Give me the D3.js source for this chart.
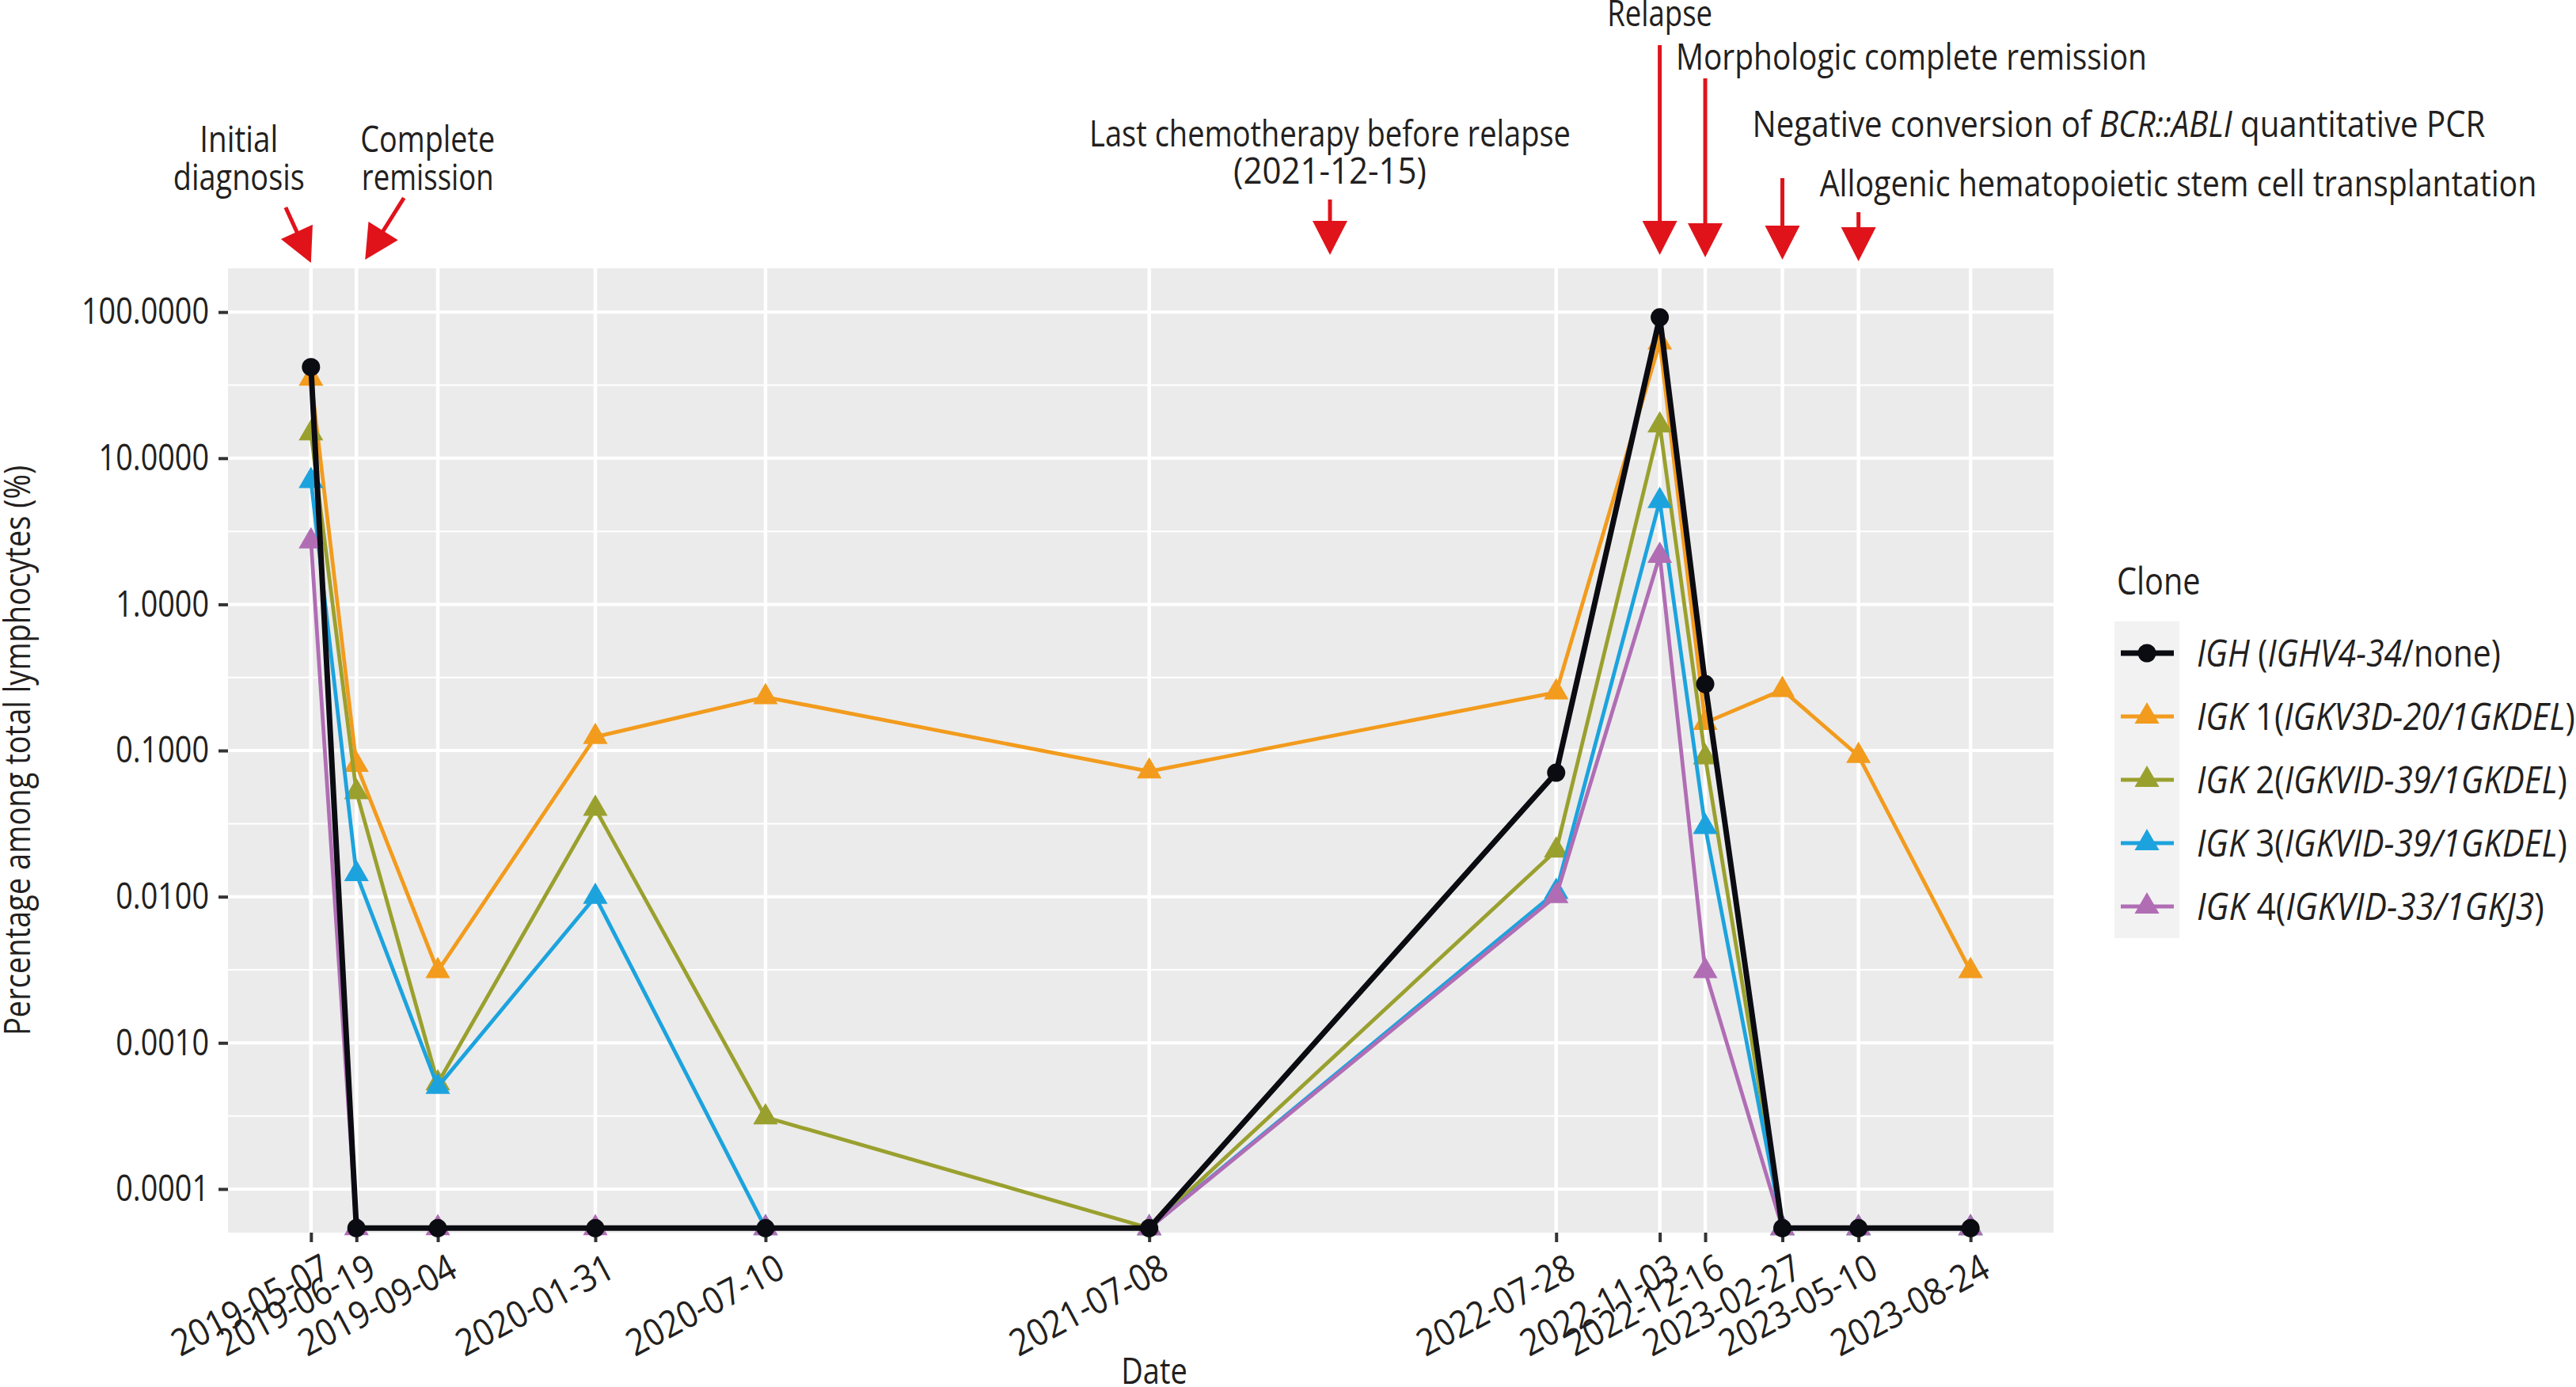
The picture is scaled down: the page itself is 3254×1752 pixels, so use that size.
<!DOCTYPE html>
<html>
<head>
<meta charset="utf-8">
<script src="https://cdn.jsdelivr.net/npm/d3@7"></script>
<style>
body { margin: 0; background: #fff; }
text { font-family: "Open Sans", "DejaVu Sans", sans-serif; fill: #231f20; }
</style>
</head>
<body>
<svg id="chart" width="3254" height="1752"></svg>
<script>

// sampling dates (x categories, also the x tick labels)
var dates = ["2019-05-07", "2019-06-19", "2019-09-04", "2020-01-31", "2020-07-10", "2021-07-08",
             "2022-07-28", "2022-11-03", "2022-12-16", "2023-02-27", "2023-05-10", "2023-08-24"];

// % among total lymphocytes, 0 = not detected (drawn on the floor of the panel)
var igh  = [42,   0,      0,       0,      0,       0,     0.0705, 92,   0.285, 0,    0,     0];
var igk1 = [35,   0.080,  0.0031,  0.124,  0.232,   0.072, 0.25,   62,   0.155, 0.26, 0.092, 0.0031];
var igk2 = [14.8, 0.052,  0.00053, 0.040,  0.00031, 0,     0.0207, 16.8, 0.090, 0,    0,     0];
var igk3 = [7.0,  0.0143, 0.0005,  0.0100, 0,       0,     0.0108, 5.1,  0.030, 0,    0,     0];
var igk4 = [2.7,  0,      0,       0,      0,       0,     0.0101, 2.15, 0.0031, 0,   0,     0];

var yTicks = [0.0001, 0.001, 0.01, 0.1, 1, 10, 100];
var yMinor = [0.000316, 0.00316, 0.0316, 0.316, 3.16, 31.6];

// legend labels: [text, italic?]
var cloneNames = [
  [["IGH", 1], [" (", 0], ["IGHV4-34", 1], ["/none)", 0]],
  [["IGK", 1], [" 1(", 0], ["IGKV3D-20/1GKDEL", 1], [")", 0]],
  [["IGK", 1], [" 2(", 0], ["IGKVID-39/1GKDEL", 1], [")", 0]],
  [["IGK", 1], [" 3(", 0], ["IGKVID-39/1GKDEL", 1], [")", 0]],
  [["IGK", 1], [" 4(", 0], ["IGKVID-33/1GKJ3", 1], [")", 0]]
];
var cloneColors = ["#0b0b12", "#f29b1d", "#9aa02e", "#1ca3de", "#b06db4"];
var cloneShapes = ["circle", "triangle", "triangle", "triangle", "triangle"];
var cloneValues = [igh, igk1, igk2, igk3, igk4];

// clinical events marked with red arrows
var eventDates = ["2019-05-07", "2019-06-19", "2021-12-26", "2022-11-03", "2022-12-16", "2023-02-27", "2023-05-10"];

var W = 3254, H = 1752;
var panel = {left: 288, right: 2594, top: 339, bottom: 1557};
var floorValue = 0.000054;

var parse = d3.timeParse("%Y-%m-%d");
var svg = d3.select("#chart");

// the figure uses a condensed font, so squeeze ours to the same widths
function measure(str, size) {
    var t = svg.append("text").attr("font-size", size).text(str);
    var w = t.node().getComputedTextLength();
    t.remove();
    return w;
}
var kText = 608 / measure("Last chemotherapy before relapse", 46);
var kNum = 161 / measure("100.0000", 46);
var kDate = 218 / measure("2022-07-28", 47);

function squeeze(sel, k) {
    sel.each(function () {
        var w = this.getComputedTextLength();
        d3.select(this).attr("textLength", w * k).attr("lengthAdjust", "spacingAndGlyphs");
    });
}

// text made of styled pieces, scaled horizontally to a given width
function fitText(parent, x, y, anchor, parts, width, size) {
    var g = parent.append("g");
    var t = g.append("text").attr("x", 0).attr("y", 0)
        .attr("text-anchor", anchor).attr("font-size", size || 46);
    parts.forEach(function (p) {
        t.append("tspan").attr("font-style", p[1] ? "italic" : "normal").text(p[0]);
    });
    var k = width / t.node().getComputedTextLength();
    g.attr("transform", "translate(" + x + "," + y + ") scale(" + k + ",1)");
}

// x scale with ggplot style 5% expansion
var d0 = parse(dates[0]), d1 = parse(dates[dates.length - 1]);
var pad = (d1 - d0) * 0.05;
var xScale = d3.scaleTime()
    .domain([new Date(+d0 - pad), new Date(+d1 + pad)])
    .range([panel.left, panel.right]);

var yScale = d3.scaleLog()
    .domain([5.03e-5, 199])
    .range([panel.bottom, panel.top]);

function yv(v) { return yScale(v > 0 ? v : floorValue); }

// panel + grid
svg.append("rect")
    .attr("x", panel.left).attr("y", panel.top)
    .attr("width", panel.right - panel.left).attr("height", panel.bottom - panel.top)
    .attr("fill", "#ebebeb");

svg.selectAll(".minor").data(yMinor).enter().append("line")
    .attr("x1", panel.left).attr("x2", panel.right)
    .attr("y1", function (d) { return yScale(d); }).attr("y2", function (d) { return yScale(d); })
    .attr("stroke", "#fff").attr("stroke-width", 2);

svg.selectAll(".hmajor").data(yTicks).enter().append("line")
    .attr("x1", panel.left).attr("x2", panel.right)
    .attr("y1", function (d) { return yScale(d); }).attr("y2", function (d) { return yScale(d); })
    .attr("stroke", "#fff").attr("stroke-width", 4);

svg.selectAll(".vmajor").data(dates).enter().append("line")
    .attr("y1", panel.top).attr("y2", panel.bottom)
    .attr("x1", function (d) { return xScale(parse(d)); }).attr("x2", function (d) { return xScale(parse(d)); })
    .attr("stroke", "#fff").attr("stroke-width", 4.5);

// axes
var yAxis = svg.append("g")
    .attr("transform", "translate(" + panel.left + ",0)")
    .call(d3.axisLeft(yScale).tickValues(yTicks).tickFormat(d3.format(".4f")).tickSize(12).tickPadding(12));
var xAxis = svg.append("g")
    .attr("transform", "translate(0," + panel.bottom + ")")
    .call(d3.axisBottom(xScale).tickValues(dates.map(parse)).tickFormat(d3.timeFormat("%Y-%m-%d")).tickSize(12));

svg.selectAll(".domain").remove();
svg.selectAll(".tick line").attr("stroke", "#333").attr("stroke-width", 4);
svg.selectAll(".tick text").attr("font-family", null);
yAxis.selectAll("text").attr("font-size", 46).attr("fill", "#231f20");
squeeze(yAxis.selectAll("text"), kNum);
xAxis.selectAll("text")
    .attr("font-size", 47).attr("fill", "#231f20")
    .attr("text-anchor", "end")
    .attr("x", 0).attr("y", 0).attr("dy", "0.72em")
    .attr("transform", "translate(11,25) rotate(-28)");
squeeze(xAxis.selectAll("text"), kDate);

// axis titles
svg.append("text")
    .attr("x", 1458).attr("y", 1748)
    .attr("text-anchor", "middle").attr("font-size", 46)
    .text("Date")
    .call(squeeze, kText);
svg.append("text")
    .attr("transform", "translate(38," + ((panel.top + panel.bottom) / 2) + ") rotate(-90)")
    .attr("text-anchor", "middle").attr("font-size", 46)
    .text("Percentage among total lymphocytes (%)")
    .call(squeeze, kText);

// series: line then points, IGH last so it sits on top
var line = d3.line()
    .x(function (d) { return xScale(parse(d.date)); })
    .y(function (d) { return yv(d.value); });

var triangle = d3.symbol().type(d3.symbolTriangle).size(420);
var drawOrder = [1, 2, 3, 4, 0];
drawOrder.forEach(function (i) {
    var pts = dates.map(function (d, j) { return {date: d, value: cloneValues[i][j]}; });
    svg.append("path")
        .datum(pts)
        .attr("d", line)
        .attr("fill", "none")
        .attr("stroke", cloneColors[i])
        .attr("stroke-width", i === 0 ? 7 : 4.8)
        .attr("stroke-linejoin", "round");
    var g = svg.append("g");
    if (cloneShapes[i] === "circle") {
        g.selectAll("circle").data(pts).enter().append("circle")
            .attr("cx", function (d) { return xScale(parse(d.date)); })
            .attr("cy", function (d) { return yv(d.value); })
            .attr("r", 11.5)
            .attr("fill", cloneColors[i]);
    } else {
        g.selectAll("path").data(pts).enter().append("path")
            .attr("d", triangle)
            .attr("transform", function (d) { return "translate(" + xScale(parse(d.date)) + "," + yv(d.value) + ")"; })
            .attr("fill", cloneColors[i]);
    }
});

// red arrows
function arrow(x1, y1, x2, y2) {
    var len = Math.sqrt((x2 - x1) * (x2 - x1) + (y2 - y1) * (y2 - y1));
    var ux = (x2 - x1) / len, uy = (y2 - y1) / len;
    var hl = 43, hw = 22;
    var bx = x2 - ux * hl, by = y2 - uy * hl;
    svg.append("line")
        .attr("x1", x1).attr("y1", y1).attr("x2", bx + ux * 4).attr("y2", by + uy * 4)
        .attr("stroke", "#e0131b").attr("stroke-width", 5);
    svg.append("path")
        .attr("d", "M" + x2 + "," + y2 + "L" + (bx - uy * hw) + "," + (by + ux * hw) + "L" + (bx + uy * hw) + "," + (by - ux * hw) + "Z")
        .attr("fill", "#e0131b");
}

var ex = eventDates.map(function (d) { return xScale(parse(d)); });
arrow(ex[0] - 32, 262, ex[0], 332);
arrow(ex[1] + 60, 250, ex[1] + 11, 328);
arrow(ex[2], 252, ex[2], 322);
arrow(ex[3], 57, ex[3], 322);
arrow(ex[4], 99, ex[4], 325);
arrow(ex[5], 225, ex[5], 328);
arrow(ex[6], 268, ex[6], 330);

// event labels
var notes = svg.append("g");
fitText(notes, ex[0] - 91, 192, "middle", [["Initial", 0]], 99);
fitText(notes, ex[0] - 91, 240, "middle", [["diagnosis", 0]], 166);
fitText(notes, ex[1] + 90, 192, "middle", [["Complete", 0]], 170);
fitText(notes, ex[1] + 90, 240, "middle", [["remission", 0]], 167);
fitText(notes, ex[2], 185, "middle", [["Last chemotherapy before relapse", 0]], 608);
fitText(notes, ex[2], 232, "middle", [["(2021-12-15)", 0]], 244);
fitText(notes, ex[3], 33, "middle", [["Relapse", 0]], 133);
fitText(notes, ex[4] - 37, 88, "start", [["Morphologic complete remission", 0]], 595);
fitText(notes, ex[5] - 38, 173, "start", [["Negative conversion of ", 0], ["BCR::ABLI", 1], [" quantitative PCR", 0]], 926);
fitText(notes, ex[6] - 49, 248, "start", [["Allogenic hematopoietic stem cell transplantation", 0]], 906);

// legend
var legendWidths = [384, 478, 468, 468, 439];
var legend = svg.append("g");
legend.append("text").attr("x", 2674).attr("y", 751).attr("font-size", 48).text("Clone").call(squeeze, kText);
cloneNames.forEach(function (parts, i) {
    var cy = 825 + i * 80;
    legend.append("rect").attr("x", 2671).attr("y", cy - 40).attr("width", 82).attr("height", 80).attr("fill", "#f2f2f2");
    legend.append("line").attr("x1", 2679).attr("x2", 2746).attr("y1", cy).attr("y2", cy)
        .attr("stroke", cloneColors[i]).attr("stroke-width", i === 0 ? 7 : 5);
    if (cloneShapes[i] === "circle") {
        legend.append("circle").attr("cx", 2712).attr("cy", cy).attr("r", 11.5).attr("fill", cloneColors[i]);
    } else {
        legend.append("path").attr("d", triangle).attr("transform", "translate(2712," + cy + ")").attr("fill", cloneColors[i]);
    }
    fitText(legend, 2775, cy + 17, "start", parts, legendWidths[i], 47);
});

</script>
</body>
</html>
